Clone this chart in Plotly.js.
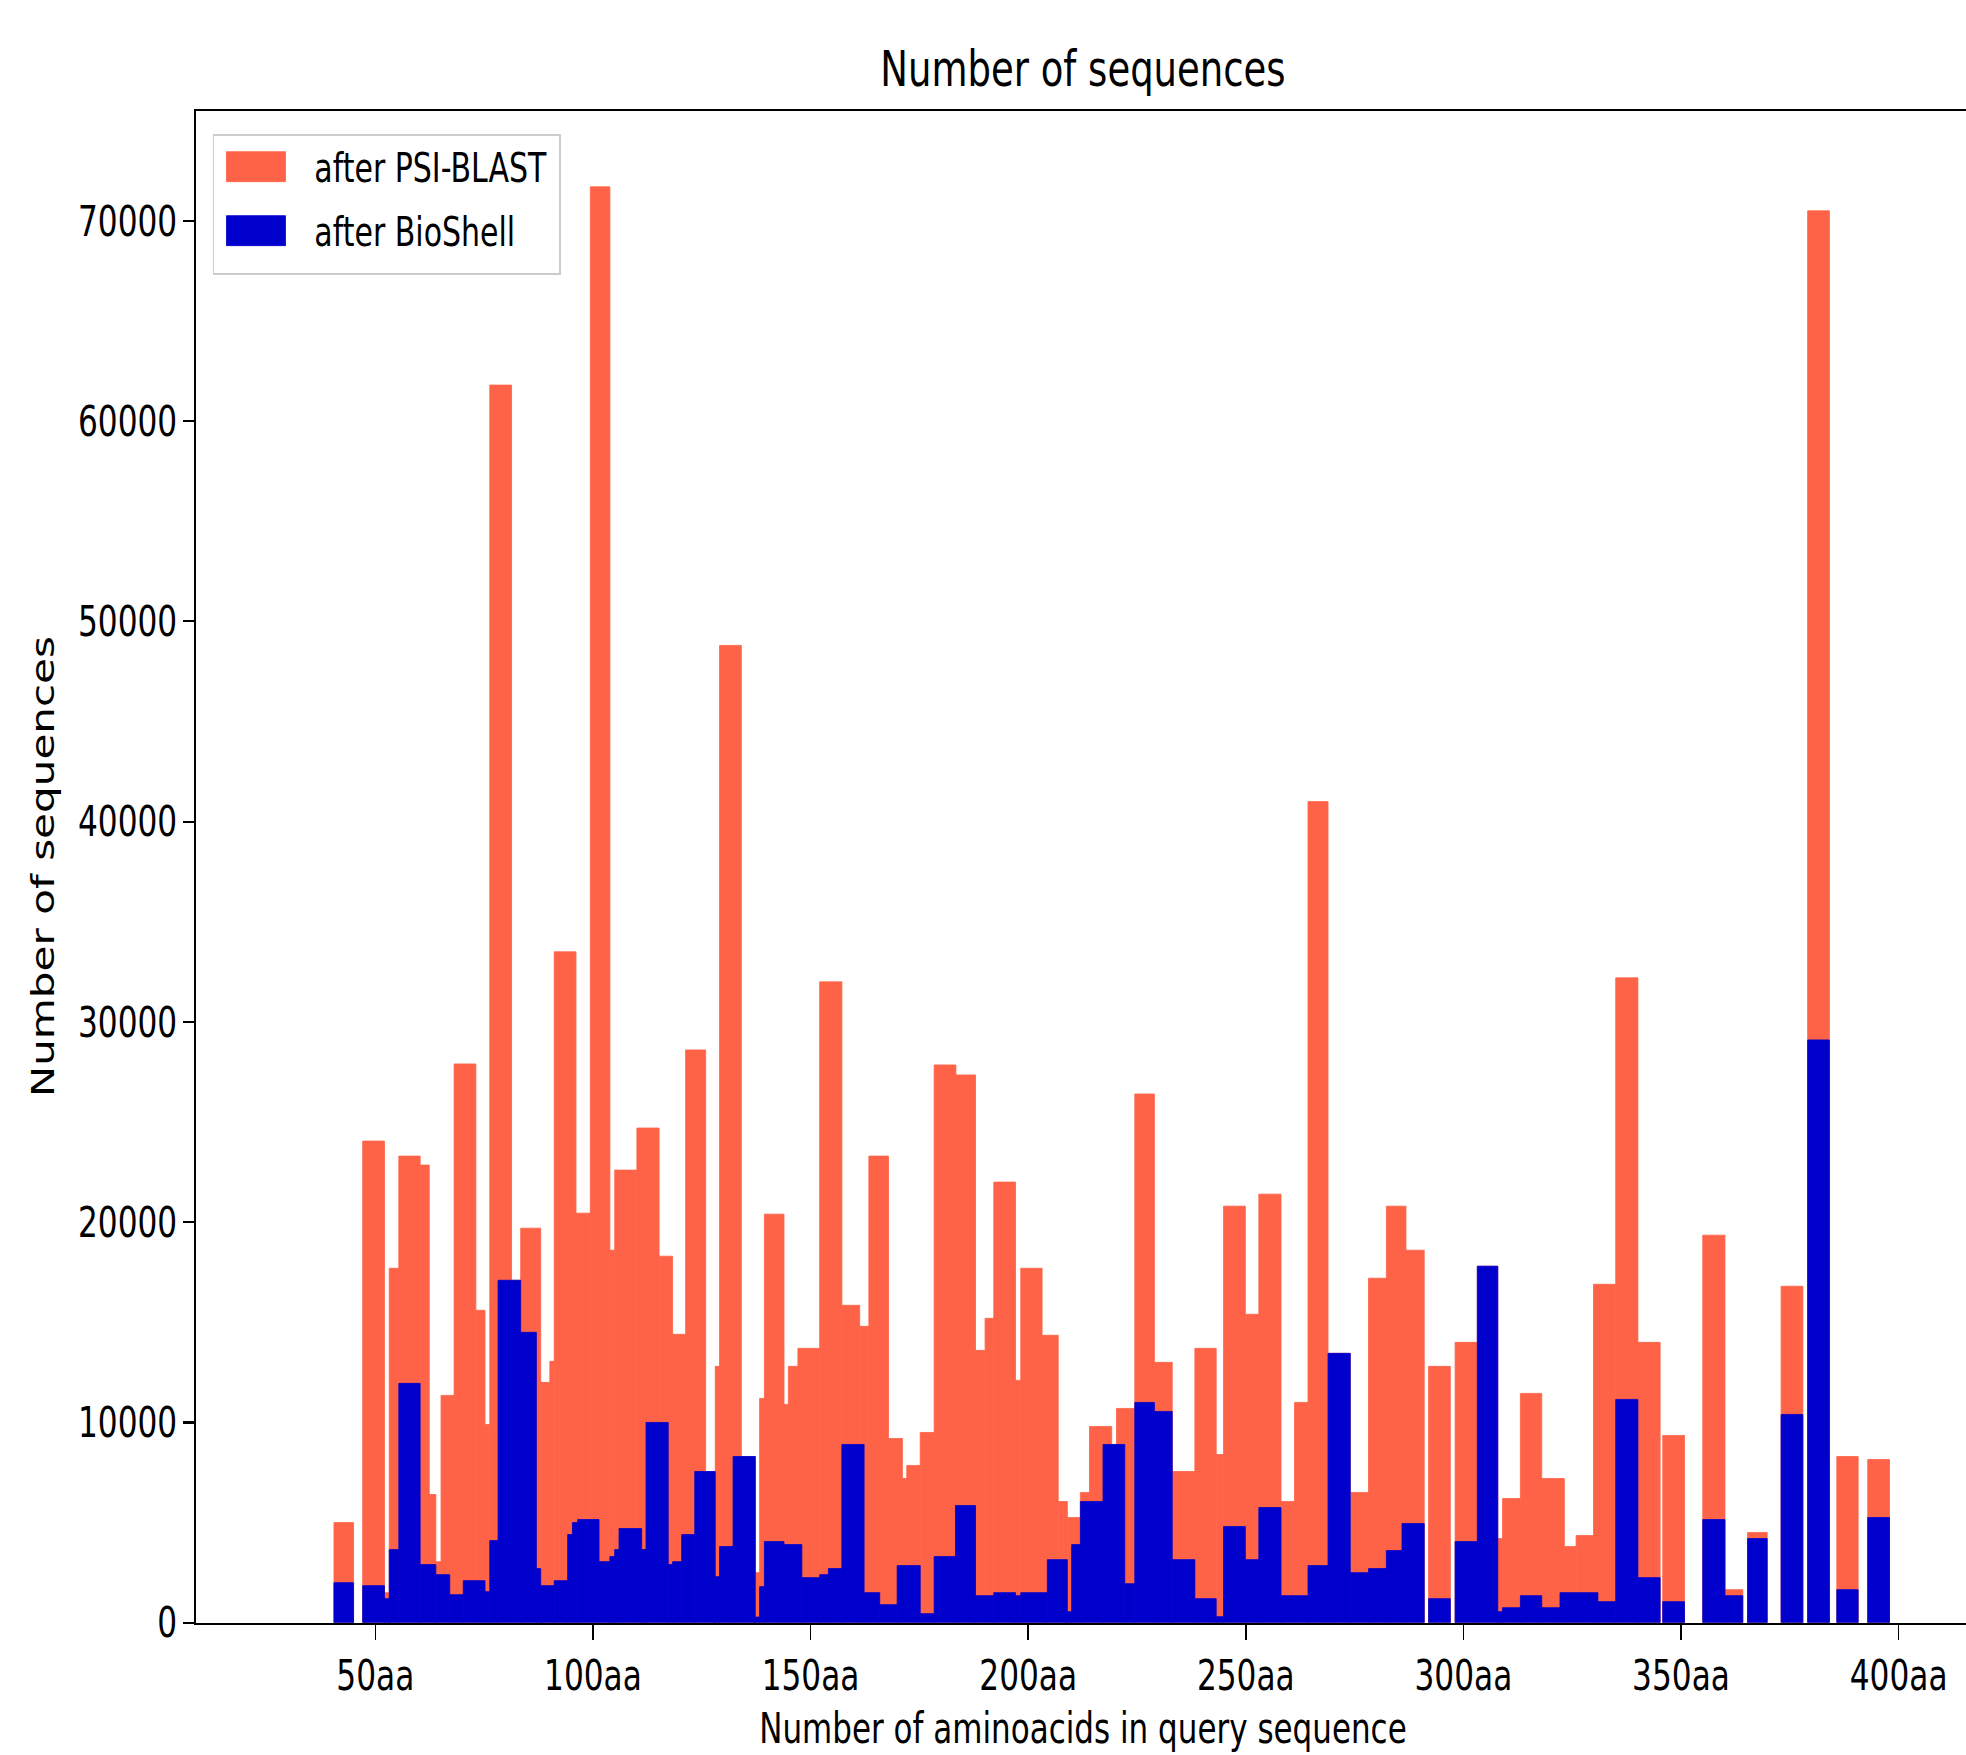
<!DOCTYPE html>
<html>
<head>
<meta charset="utf-8">
<script src="https://cdn.plot.ly/plotly-3.0.1.min.js"></script>
<style>
  html, body { margin:0; padding:0; background:#fff; overflow:hidden; width:1966px; height:1755px; }
  #wrap { position:absolute; left:0; top:0; transform-origin:0 0; transform:scale(2,2.7); }
  #plot { width:1000px; height:650px; }
</style>
</head>
<body>
<div id="wrap"><div id="plot"></div></div>
<script>
// Histogram bins: left edges (last value = right edge of final bin), amino-acid units
const psiEdges = [40.5,45.0,47.1,52.1,53.2,55.4,60.3,62.4,63.9,65.1,
  68.1,73.1,75.2,76.3,81.3,83.4,88.0,90.1,91.1,96.1,
  99.4,103.9,105.0,110.1,115.2,118.3,121.3,125.9,128.1,129.1,
  134.1,137.3,138.3,139.4,143.9,144.9,147.1,152.1,157.2,161.3,
  163.4,167.9,171.1,172.1,175.2,178.4,183.4,187.9,190.1,192.1,
  197.1,198.3,203.2,206.9,209.0,212.0,214.1,219.2,220.3,224.5,
  229.0,233.1,238.3,243.2,244.9,249.9,253.0,258.1,261.2,264.3,
  268.9,274.0,278.2,282.3,286.8,291.0,292.0,297.0,298.1,303.2,
  307.9,309.0,313.1,318.0,323.2,325.9,329.9,335.0,340.1,345.2,
  345.8,350.8,355.0,360.1,364.2,365.3,369.8,373.0,378.0,379.1,
  384.1,385.8,390.7,392.9,397.9];
const psiCounts = [5000,0,24050,1500,17700,23300,22850,6400,3050,11350,
  27900,15600,9900,61800,17100,19700,12000,13050,33500,20450,
  71700,18600,22600,24700,18300,14400,28600,7550,12800,48800,
  8300,2500,11200,20400,10900,12800,13700,32000,15850,14800,
  23300,9200,7200,7850,9500,27850,27350,13600,15200,22000,
  12100,17700,14350,6050,5250,6500,9800,8900,10700,26400,
  13000,7550,13700,8400,20800,15400,21400,6050,11000,41000,
  13450,6500,17200,20800,18600,0,12800,0,14000,17800,
  4200,6200,11450,7200,3800,4350,16900,32200,14000,0,
  9350,0,19350,1650,0,4500,0,16800,0,70500,
  0,8300,0,8150];
const bioEdges = [40.5,45.0,47.1,52.1,53.2,55.4,60.3,63.9,67.1,70.2,
  75.2,76.3,78.2,83.4,87.0,88.0,91.1,94.2,95.3,96.5,
  101.4,103.9,105.0,106.0,111.2,112.2,117.3,118.3,120.4,123.4,
  128.1,129.1,132.2,137.3,138.3,139.4,143.9,148.0,152.1,154.1,
  157.2,162.3,165.9,169.9,175.2,178.4,183.3,187.9,192.1,197.1,
  198.3,204.4,209.0,210.0,212.0,217.2,222.2,224.5,229.0,233.1,
  238.3,243.2,244.9,249.9,253.0,258.1,264.3,268.9,274.0,278.2,
  282.3,285.9,291.0,292.0,297.0,298.1,303.2,307.9,309.0,313.1,
  318.0,322.2,330.9,335.0,340.1,345.2,345.8,350.8,355.0,360.1,
  364.2,365.3,369.8,373.0,378.0,379.1,384.1,385.8,390.7,392.9,
  397.9];
const bioCounts = [2000,0,1850,1200,3650,11950,2900,2400,1400,2100,
  1550,4100,17100,14500,2700,1850,2100,4400,5000,5150,
  3050,3300,3650,4700,3650,10000,2900,3050,4400,7550,
  2300,3800,8300,280,1800,4050,3900,2250,2400,2700,
  8900,1500,900,2850,450,3300,5850,1350,1500,1350,
  1500,3150,550,3900,6050,8900,1950,11000,10550,3150,
  1200,300,4800,3150,5750,1350,2850,13450,2500,2700,
  3600,4950,0,1200,0,4050,17800,550,750,1350,
  750,1500,1050,11150,2250,0,1050,0,5150,1350,
  0,4200,0,10400,0,29100,0,1650,0,5250];

const xTickVals = [50,100,150,200,250,300,350,400];
const xTickText = ["50aa","100aa","150aa","200aa","250aa","300aa","350aa","400aa"];
const yTickVals = [0,10000,20000,30000,40000,50000,60000,70000];
const yTickText = ["0","10000","20000","30000","40000","50000","60000","70000"];

function binsToBars(edges, counts) {
  const x = [], w = [], y = [];
  for (let i = 0; i < counts.length; i++) {
    if (counts[i] <= 0) continue;
    x.push((edges[i] + edges[i+1]) / 2);
    w.push(edges[i+1] - edges[i]);
    y.push(counts[i]);
  }
  return {x, w, y};
}

const FONT = "DejaVu Sans, Verdana, sans-serif";
const ORANGE = '#FF6347', BLUE = '#0000CD';
const psi = binsToBars(psiEdges, psiCounts);
const bio = binsToBars(bioEdges, bioCounts);

const traces = [
  {type:'bar', name:'after PSI-BLAST', x:psi.x, y:psi.y, width:psi.w,
   marker:{color:ORANGE, line:{width:0.35, color:ORANGE}}},
  {type:'bar', name:'after BioShell', x:bio.x, y:bio.y, width:bio.w,
   marker:{color:BLUE, line:{width:0.35, color:BLUE}}}
];

const layout = {
  width:1000, height:650,
  margin:{l:98.35, r:14.7, t:40.7, b:49.4, pad:0},
  paper_bgcolor:'#fff', plot_bgcolor:'#fff',
  barmode:'overlay',
  font:{family:FONT, size:15, color:'#000'},
  title:{text:'Number of sequences', font:{family:FONT, size:18.5, color:'#000'},
         x:0.5, xref:'paper', xanchor:'center', y:1-25.3/650, yref:'container', yanchor:'middle'},
  xaxis:{range:[8.8,416.4], tickvals:xTickVals, ticktext:xTickText,
         ticks:'outside', ticklen:5.5, tickwidth:0.8, tickcolor:'#000',
         showline:true, mirror:true, linecolor:'#000', linewidth:0.8,
         showgrid:false, zeroline:false,
         tickfont:{family:FONT, size:15.6, color:'#000'},
         title:{text:'Number of aminoacids in query sequence', font:{family:FONT, size:15.5, color:'#000'}, standoff:5}},
  yaxis:{range:[0,75500], tickvals:yTickVals, ticktext:yTickText,
         ticks:'outside', ticklen:5.5, tickwidth:0.8, tickcolor:'#000',
         showline:true, mirror:true, linecolor:'#000', linewidth:0.8,
         showgrid:false, zeroline:false,
         tickfont:{family:FONT, size:15.6, color:'#000'},
         title:{text:'Number of sequences', font:{family:FONT, size:15.6, color:'#000'}, standoff:7}},
  showlegend:true,
  legend:{x:0.0094, y:0.9845, xanchor:'left', yanchor:'top',
          bgcolor:'rgba(255,255,255,0.8)', bordercolor:'#cccccc', borderwidth:0.8,
          font:{family:FONT, size:15, color:'#000'}, itemwidth:40, traceorder:'normal'}
};

Plotly.newPlot('plot', traces, layout, {staticPlot:true, displayModeBar:false}).then(function(){
  document.querySelectorAll('#plot .legend .legendpoints path').forEach(function(p){
    p.setAttribute('d','M10.6,5.55H-18.9V-5.55H10.6Z');
  });
  // tighten legend rows to match the reference spacing
  const shifts = [-5.0, -3.8];
  document.querySelectorAll('#plot .legend .traces').forEach(function(g, i){
    const t = g.getAttribute('transform') || '';
    const m = t.match(/translate\(\s*([-\d.eE]+)[ ,]+([-\d.eE]+)\s*\)/);
    if (m && i < shifts.length) {
      g.setAttribute('transform', 'translate(' + m[1] + ',' + (parseFloat(m[2]) + shifts[i]) + ')');
    }
  });
  const bg = document.querySelector('#plot .legend rect.bg');
  if (bg) {
    const h = parseFloat(bg.getAttribute('height'));
    if (!isNaN(h)) bg.setAttribute('height', (h - 4.7).toFixed(2));
  }
});
</script>
</body>
</html>
